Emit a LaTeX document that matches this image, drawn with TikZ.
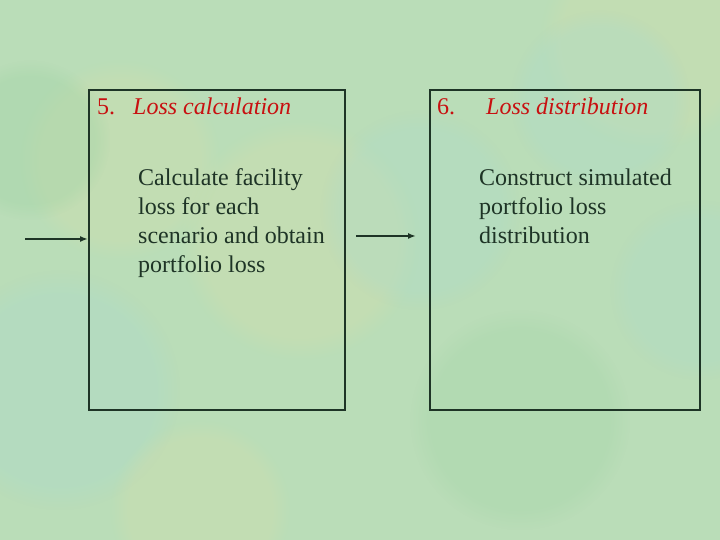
\documentclass[tikz,border=0pt]{standalone}
\usepackage{fontspec}
\setmainfont{Liberation Serif}
\usetikzlibrary{arrows.meta,fadings}
\definecolor{bgg}{RGB}{186,221,184}
\definecolor{bgy}{RGB}{214,222,170}
\definecolor{bgb}{RGB}{170,218,205}
\definecolor{bgd}{RGB}{160,212,165}
\definecolor{inkg}{RGB}{30,52,38}
\definecolor{titred}{RGB}{200,16,16}
\tikzset{
  stage/.style={draw=inkg, line width=2pt, inner sep=0pt},
  title/.style={text=titred, font=\fontsize{24}{29}\selectfont\itshape, anchor=base west, inner sep=0pt},
  titnum/.style={text=titred, font=\fontsize{24}{29}\selectfont, anchor=base west, inner sep=0pt},
  body/.style={text=inkg, font=\fontsize{24}{29}\selectfont, align=left, anchor=base west, inner sep=0pt},
  flow/.style={draw=inkg, line width=2pt, -{Latex[length=8pt,width=6pt]}},
  blob/.style={path fading=circle with fuzzy edge 20 percent, fill=#1}
}
\begin{document}
\begin{tikzpicture}[x=1pt,y=1pt]
\useasboundingbox (0,0) rectangle (720,540);
\fill[bgg] (0,0) rectangle (720,540);
% soft background patches
\fill[blob=bgy, opacity=0.35] (300,300) circle (120);
\fill[blob=bgy, opacity=0.3] (650,500) circle (110);
\fill[blob=bgy, opacity=0.3] (120,380) circle (100);
\fill[blob=bgb, opacity=0.35] (60,150) circle (120);
\fill[blob=bgb, opacity=0.3] (600,440) circle (90);
\fill[blob=bgb, opacity=0.3] (420,330) circle (100);
\fill[blob=bgd, opacity=0.35] (30,400) circle (80);
\fill[blob=bgd, opacity=0.3] (520,120) circle (110);
\fill[blob=bgy, opacity=0.3] (200,30) circle (90);
\fill[blob=bgb, opacity=0.25] (700,250) circle (90);

% boxes
\node[stage, minimum width=256pt, minimum height=320pt] (b1) at (217,290) {};
\node[stage, minimum width=270pt, minimum height=320pt] (b2) at (565,290) {};

% titles
\node[titnum] (t1n) at (97,425) {5.};
\node[title] (t1) at (133,425) {Loss calculation};
\node[titnum] (t2n) at (437,425) {6.};
\node[title] (t2) at (486,425) {Loss distribution};

% bodies (anchored at the baseline of the last line)
\node[body] (x1) at (138,267) {Calculate facility\\loss for each\\scenario and obtain\\portfolio loss};
\node[body] (x2) at (479,296) {Construct simulated\\portfolio loss\\distribution};

% connectors
\coordinate (a0) at (25,301);
\coordinate (a1) at (356,304);
\draw[flow] (a0) -- (a0 -| b1.west);
\draw[flow] (a1) -- ([xshift=-13pt]a1 -| b2.west);
\end{tikzpicture}
\end{document}
